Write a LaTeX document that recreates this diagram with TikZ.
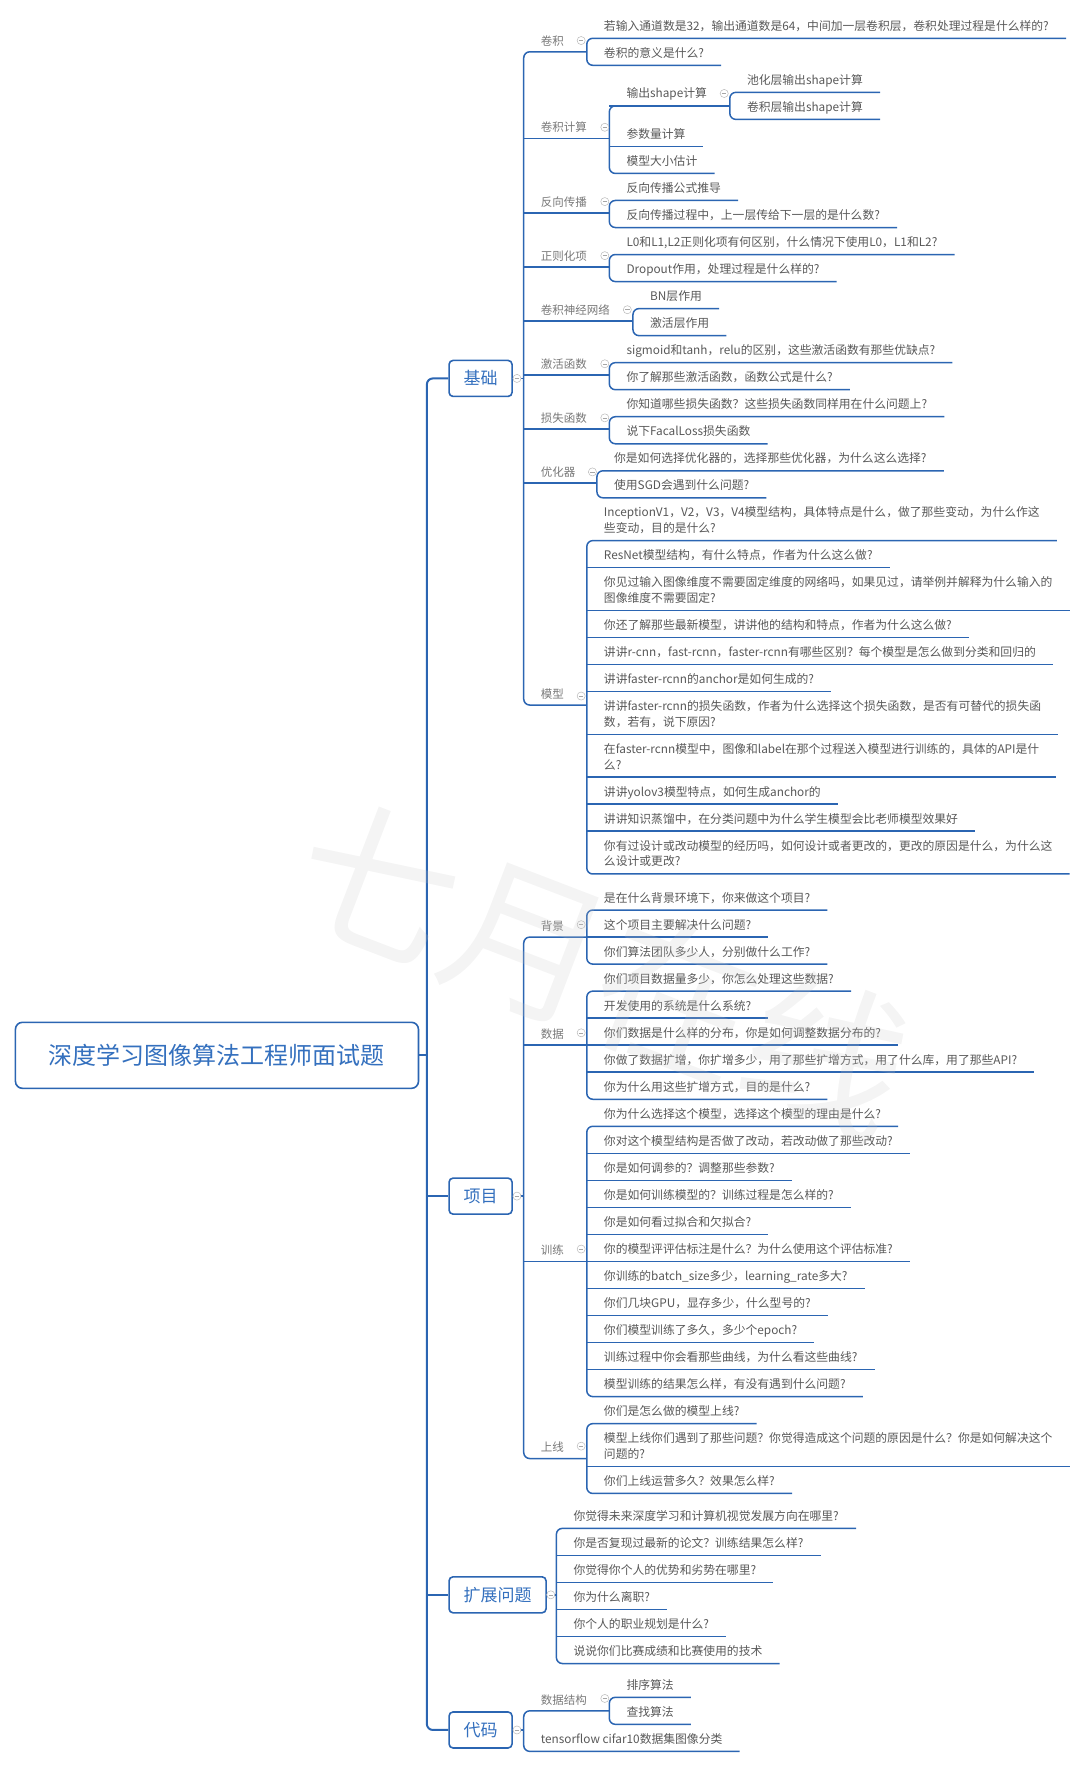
\documentclass[tikz,border=0pt]{standalone}
\usepackage{fontspec}
\newfontfamily\cjk{Noto Sans CJK SC}
\definecolor{lineblue}{RGB}{43,101,178}
\definecolor{topicblue}{RGB}{52,112,190}
\definecolor{leafgray}{RGB}{88,88,88}
\definecolor{subgray}{RGB}{120,120,120}
\newcommand\twoline[2]{\begin{tabular}[b]{@{}l@{}}#1\\#2\end{tabular}}
% bracket joining children #11 ... #1#2
\newcommand\fork[2]{%
  \draw[link] (#11.south east) -- (#11.south west) -- (#1#2.south west) -- (#1#2.south east);
  \ifnum#2>2
    \pgfmathtruncatemacro\forkmid{#2-1}
    \foreach \k in {2,...,\forkmid} \draw[link] (#1\k.south west) -- (#1\k.south east);
  \fi}
\tikzset{
  link/.style  = {draw=lineblue, line width=1.5pt, rounded corners=6pt},
  trunk/.style = {link, line width=2pt},
  topic/.style = {draw=lineblue, line width=1.6pt, rounded corners=4pt, fill=white,
    text=topicblue, font=\cjk\fontsize{17}{20}\selectfont,
    minimum height=36pt, inner xsep=14.5pt, anchor=west},
  root/.style  = {topic, rounded corners=7pt, minimum width=403pt, minimum height=66pt,
    font=\cjk\fontsize{24}{28}\selectfont},
  sub/.style   = {anchor=south west, inner xsep=17pt, inner ysep=6.5pt, text depth=0pt,
    text=subgray, font=\cjk\fontsize{11.5}{14}\selectfont},
  leaf/.style  = {sub, inner ysep=7.8pt, text=leafgray, font=\cjk\fontsize{11.8}{15.8}\selectfont},
  stamp/.style = {rotate=-21, text=gray!45, text opacity=0.2,
    font=\cjk\fontsize{160}{160}\selectfont},
  fold/.pic    = {\draw[gray!55, line width=0.5pt, fill=white] (0,0) circle (3.6);
                  \draw[gray!70, line width=0.5pt] (-2,0) -- (2,0);}
}

\begin{document}
\begin{tikzpicture}[x=1.1262pt, y=-1.1262pt]
\useasboundingbox (0,0) rectangle (959,1568);

% root and main topics
\node[root] (root) at (13,937) {深度学习图像算法工程师面试题};
\coordinate (spine) at (379,937);
\node[topic] (jc) at (398,336) {基础};
\node[topic] (xm) at (398,1062) {项目};
\node[topic] (kz) at (398,1416) {扩展问题};
\node[topic] (dm) at (398,1536) {代码};
\draw[trunk] (root.east) -- (spine);
\draw[trunk] (jc.west) -- (spine |- jc.west) -- (spine |- dm.west) -- (dm.west);
\draw[trunk] (spine |- xm.west) -- (xm.west);
\draw[trunk] (spine |- kz.west) -- (kz.west);

% 基础
\node[sub] (jj) at (465,46) {卷积};
\node[sub] (js) at (465,123) {卷积计算};
\node[sub] (fx) at (465,189) {反向传播};
\node[sub] (zz) at (465,237) {正则化项};
\node[sub] (cn) at (465,285) {卷积神经网络};
\node[sub] (jh) at (465,333) {激活函数};
\node[sub] (ss) at (465,381) {损失函数};
\node[sub] (yh) at (465,429) {优化器};
\node[sub] (mx) at (465,626) {模型};

\foreach \y/\t [count=\i] in {34/{若输入通道数是32，输出通道数是64，中间加一层卷积层，卷积处理过程是什么样的?},
    58/{卷积的意义是什么?}}
  \node[leaf] (jj\i) at (521,\y) {\t};
\foreach \y/\t [count=\i] in {94/输出shape计算, 130/参数量计算, 154/模型大小估计}
  \node[leaf] (js\i) at (541,\y) {\t};
\foreach \y/\t [count=\i] in {82/池化层输出shape计算, 106/卷积层输出shape计算}
  \node[leaf] (sp\i) at (648,\y) {\t};
\foreach \y/\t [count=\i] in {178/反向传播公式推导, 202/{反向传播过程中，上一层传给下一层的是什么数?}}
  \node[leaf] (fx\i) at (541,\y) {\t};
\foreach \y/\t [count=\i] in {226/{L0和L1,L2正则化项有何区别，什么情况下使用L0，L1和L2?},
    250/{Dropout作用，处理过程是什么样的?}}
  \node[leaf] (zz\i) at (541,\y) {\t};
\foreach \y/\t [count=\i] in {274/BN层作用, 298/激活层作用}
  \node[leaf] (cn\i) at (562,\y) {\t};
\foreach \y/\t [count=\i] in {322/{sigmoid和tanh，relu的区别，这些激活函数有那些优缺点?},
    346/{你了解那些激活函数，函数公式是什么?}}
  \node[leaf] (jh\i) at (541,\y) {\t};
\foreach \y/\t [count=\i] in {370/{你知道哪些损失函数？这些损失函数同样用在什么问题上?},
    394/说下FacalLoss损失函数}
  \node[leaf] (ss\i) at (541,\y) {\t};
\foreach \y/\t [count=\i] in {418/{你是如何选择优化器的，选择那些优化器，为什么这么选择?},
    442/使用SGD会遇到什么问题?}
  \node[leaf] (yh\i) at (530,\y) {\t};
\foreach \y/\t [count=\i] in {
    480/{\twoline{InceptionV1，V2，V3，V4模型结构，具体特点是什么，做了那些变动，为什么作这}{些变动，目的是什么?}},
    504/{ResNet模型结构，有什么特点，作者为什么这么做?},
    542/{\twoline{你见过输入图像维度不需要固定维度的网络吗，如果见过，请举例并解释为什么输入的}{图像维度不需要固定?}},
    566/{你还了解那些最新模型，讲讲他的结构和特点，作者为什么这么做?},
    590/{讲讲r-cnn，fast-rcnn，faster-rcnn有哪些区别？每个模型是怎么做到分类和回归的},
    614/{讲讲faster-rcnn的anchor是如何生成的?},
    652/{\twoline{讲讲faster-rcnn的损失函数，作者为什么选择这个损失函数，是否有可替代的损失函}{数，若有，说下原因?}},
    690/{\twoline{在faster-rcnn模型中，图像和label在那个过程送入模型进行训练的，具体的API是什}{么?}},
    714/{讲讲yolov3模型特点，如何生成anchor的},
    738/{讲讲知识蒸馏中，在分类问题中为什么学生模型会比老师模型效果好},
    776/{\twoline{你有过设计或改动模型的经历吗，如何设计或者更改的，更改的原因是什么，为什么这}{么设计或更改?}}}
  \node[leaf] (mx\i) at (521,\y) {\t};

\draw[link] (jc.east) -- (jj.south west |- jc.east);
\draw[link] (jj1.south west |- jj.south) -- (jj.south west) -- (mx.south west) -- (mx1.south west |- mx.south);
\foreach \n in {js, fx, zz, cn, jh, ss, yh}
  \draw[link] (\n.south west) -- (\n1.south west |- \n.south);
\draw[link] (js1.south west) -- (sp1.south west |- js1.south);
\fork{jj}{2} \fork{js}{3} \fork{sp}{2} \fork{fx}{2} \fork{zz}{2}
\fork{cn}{2} \fork{jh}{2} \fork{ss}{2} \fork{yh}{2} \fork{mx}{11}

% 项目
\node[sub] (bj) at (465,832) {背景};
\node[sub] (sj) at (465,928) {数据};
\node[sub] (xl) at (465,1120) {训练};
\node[sub] (sx) at (465,1295) {上线};

\foreach \y/\t [count=\i] in {808/{是在什么背景环境下，你来做这个项目?}, 832/这个项目主要解决什么问题?,
    856/{你们算法团队多少人，分别做什么工作?}}
  \node[leaf] (bj\i) at (521,\y) {\t};
\foreach \y/\t [count=\i] in {880/{你们项目数据量多少，你怎么处理这些数据?}, 904/开发使用的系统是什么系统?,
    928/{你们数据是什么样的分布，你是如何调整数据分布的?},
    952/{你做了数据扩增，你扩增多少，用了那些扩增方式，用了什么库，用了那些API?},
    976/{你为什么用这些扩增方式，目的是什么?}}
  \node[leaf] (sj\i) at (521,\y) {\t};
\foreach \y/\t [count=\i] in {1000/{你为什么选择这个模型，选择这个模型的理由是什么?},
    1024/{你对这个模型结构是否做了改动，若改动做了那些改动?},
    1048/{你是如何调参的？调整那些参数?}, 1072/{你是如何训练模型的？训练过程是怎么样的?},
    1096/你是如何看过拟合和欠拟合?, 1120/{你的模型评评估标注是什么？为什么使用这个评估标准?},
    1144/{你训练的batch\_size多少，learning\_rate多大?}, 1168/{你们几块GPU，显存多少，什么型号的?},
    1192/{你们模型训练了多久，多少个epoch?}, 1216/{训练过程中你会看那些曲线，为什么看这些曲线?},
    1240/{模型训练的结果怎么样，有没有遇到什么问题?}}
  \node[leaf] (xl\i) at (521,\y) {\t};
\foreach \y/\t [count=\i] in {1264/你们是怎么做的模型上线?,
    1302/{\twoline{模型上线你们遇到了那些问题？你觉得造成这个问题的原因是什么？你是如何解决这个}{问题的?}},
    1326/{你们上线运营多久？效果怎么样?}}
  \node[leaf] (sx\i) at (521,\y) {\t};

\draw[link] (xm.east) -- (bj.south west |- xm.east);
\draw[link] (bj1.south west |- bj.south) -- (bj.south west) -- (sx.south west) -- (sx1.south west |- sx.south);
\foreach \n in {sj, xl}
  \draw[link] (\n.south west) -- (\n1.south west |- \n.south);
\fork{bj}{3} \fork{sj}{5} \fork{xl}{11} \fork{sx}{3}

% 扩展问题
\foreach \y/\t [count=\i] in {1357/你觉得未来深度学习和计算机视觉发展方向在哪里?,
    1381/{你是否复现过最新的论文？训练结果怎么样?}, 1405/你觉得你个人的优势和劣势在哪里?,
    1429/你为什么离职?, 1453/你个人的职业规划是什么?, 1477/说说你们比赛成绩和比赛使用的技术}
  \node[leaf] (kz\i) at (494,\y) {\t};
\draw[link] (kz.east) -- (kz1.south west |- kz.east);
\fork{kz}{6}

% 代码
\node[sub] (sg) at (465,1519) {数据结构};
\node[leaf] (tf) at (465,1555) {tensorflow cifar10数据集图像分类};
\foreach \y/\t [count=\i] in {1507/排序算法, 1531/查找算法}
  \node[leaf] (sg\i) at (541,\y) {\t};
\draw[link] (dm.east) -- (sg.south west |- dm.east);
\draw[link] (sg1.south west |- sg.south) -- (sg.south west) -- (tf.south west) -- (tf.south east);
\fork{sg}{2}

% collapse marks
\foreach \a/\b in {459/336, 516/36, 537/113, 643/83, 537/179, 537/227, 557/275, 537/323,
    537/371, 526/419, 516/618, 459/1062, 516/821, 516/917, 516/1109, 516/1284,
    489/1416, 459/1536, 537/1508}
  \pic at (\a,\b) {fold};

% watermark
\node[stamp] (wm) at (535,860) {七月在线};
\end{tikzpicture}
\end{document}
